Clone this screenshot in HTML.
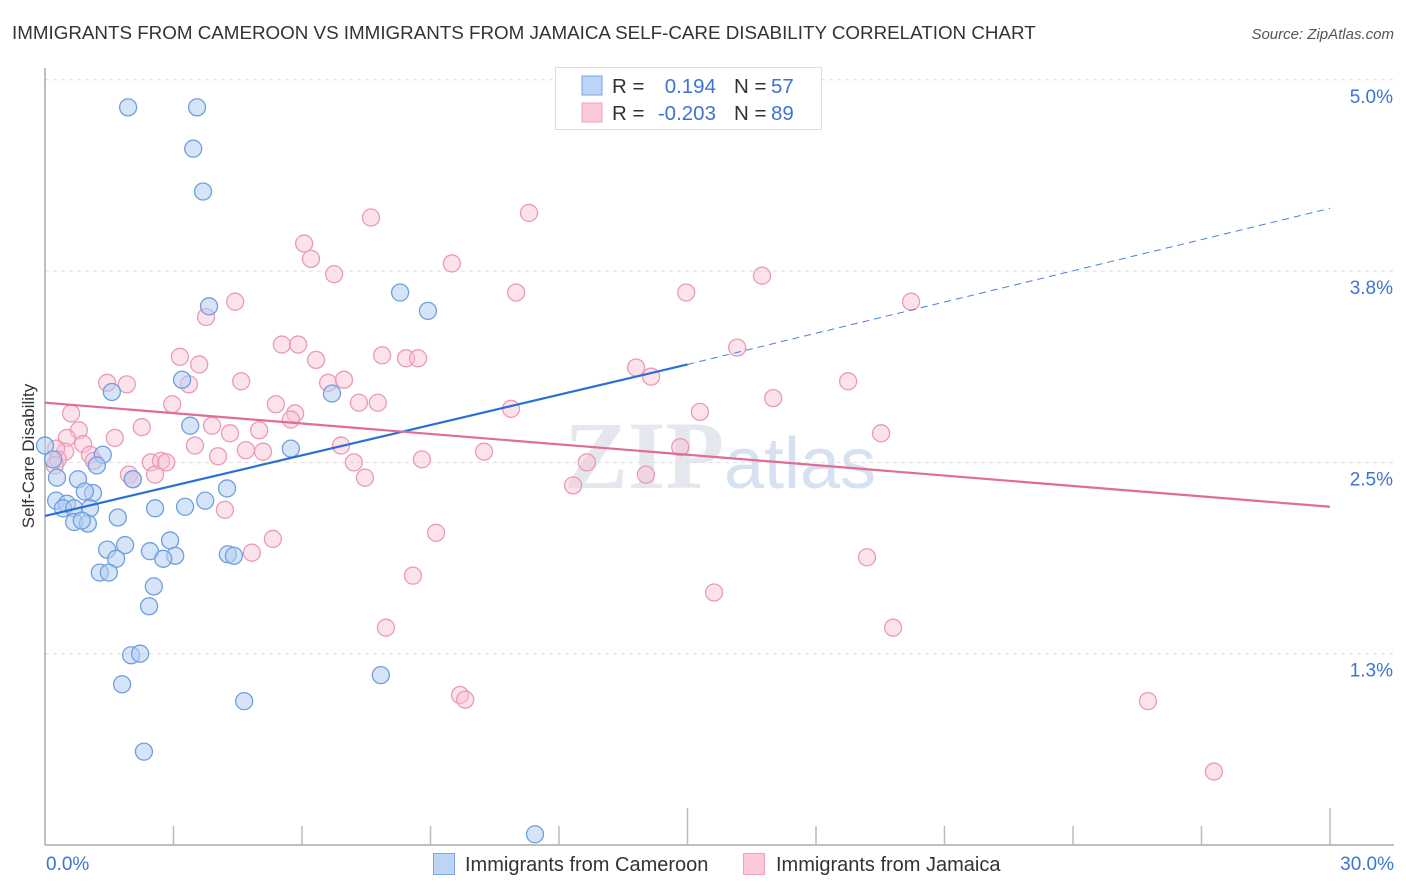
<!DOCTYPE html>
<html><head><meta charset="utf-8">
<style>
body{margin:0;background:#fff;font-family:"Liberation Sans",sans-serif;}
svg{display:block}
</style></head>
<body>
<svg id="chart" width="1406" height="892" xmlns="http://www.w3.org/2000/svg">
<text x="12" y="39" font-size="18.8" fill="#333">IMMIGRANTS FROM CAMEROON VS IMMIGRANTS FROM JAMAICA SELF-CARE DISABILITY CORRELATION CHART</text>
<text x="1394" y="39" font-size="15" fill="#555" font-style="italic" text-anchor="end">Source: ZipAtlas.com</text>
<text x="720" y="488" font-size="96" fill="#e4e8ee" text-anchor="middle" font-family="Liberation Serif,serif" font-weight="bold">ZIP<tspan font-family="Liberation Sans,sans-serif" font-weight="normal" fill="#d6e2f2" font-size="72">atlas</tspan></text>
<g id="grid"></g>
<g id="axes"></g>
<g id="marks"></g>
<g id="lines"></g>
<text x="34" y="456" font-size="17" fill="#333" text-anchor="middle" transform="rotate(-90 34 456)">Self-Care Disability</text>
<g>
<rect x="555.5" y="67.5" width="266" height="62" fill="#fff" stroke="#ddd"/>
<rect x="582" y="76" width="20" height="19" fill="#bcd4f6" stroke="#7aa6e6"/>
<rect x="582" y="103" width="20" height="19" fill="#fac8d8" stroke="#eea3bc"/>
<text x="612" y="93" font-size="20.5" fill="#333">R =</text>
<text x="716" y="93" font-size="20.5" fill="#3d74d4" text-anchor="end">0.194</text>
<text x="734" y="93" font-size="20.5" fill="#333">N =</text>
<text x="771" y="93" font-size="20.5" fill="#3d74d4">57</text>
<text x="612" y="120" font-size="20.5" fill="#333">R =</text>
<text x="716" y="120" font-size="20.5" fill="#3d74d4" text-anchor="end">-0.203</text>
<text x="734" y="120" font-size="20.5" fill="#333">N =</text>
<text x="771" y="120" font-size="20.5" fill="#3d74d4">89</text>
</g>
<g>
<rect x="433.5" y="853.5" width="21" height="21" fill="#bcd4f6" stroke="#7aa6e6"/>
<text x="465" y="871" font-size="20" fill="#333">Immigrants from Cameroon</text>
</g>
<g>
<rect x="743.5" y="853.5" width="21" height="21" fill="#fac8d8" stroke="#eea3bc"/>
<text x="776" y="871" font-size="20" fill="#333">Immigrants from Jamaica</text>
</g>
</svg>
<script>
const xTicks=[0,3,6,9,12,15,18,21,24,27,30];
const yTicks=[1.25,2.5,3.75,5.0];
const yTickLabels=["1.3%","2.5%","3.8%","5.0%"];
const xEndLabels=["0.0%","30.0%"];
const camX=[1.94,3.55,3.46,3.69,3.83,8.29,8.94,3.20,1.56,6.70,3.39,5.74,1.35,0.0,1.21,2.05,0.77,0.28,1.12,0.93,0.26,0.51,0.42,0.68,1.05,2.57,3.27,3.74,4.25,1.70,0.68,1.00,0.86,1.87,1.45,2.45,2.92,3.04,2.76,1.66,4.27,4.41,1.28,1.49,2.54,2.43,2.01,2.22,7.84,1.80,4.65,2.31,11.44,0.19];
const camY=[4.82,4.82,4.55,4.27,3.52,3.61,3.49,3.04,2.96,2.95,2.74,2.59,2.55,2.61,2.48,2.39,2.39,2.40,2.30,2.31,2.25,2.23,2.20,2.20,2.20,2.20,2.21,2.25,2.33,2.14,2.11,2.10,2.12,1.96,1.93,1.92,1.99,1.89,1.87,1.87,1.90,1.89,1.78,1.78,1.69,1.56,1.24,1.25,1.11,1.05,0.94,0.61,0.07,2.52];
const jamX=[11.30,7.61,6.05,6.21,9.50,6.75,16.74,11.00,14.97,20.22,4.44,3.76,5.53,5.91,16.16,3.15,3.60,6.33,7.87,8.43,8.71,13.80,14.15,1.45,1.91,3.36,4.58,6.61,6.98,18.75,17.00,2.97,7.33,7.77,5.39,5.84,10.88,15.29,5.74,0.61,2.26,0.79,3.90,5.00,4.32,19.52,1.63,0.51,0.47,0.26,3.50,6.91,0.89,5.09,4.69,4.04,1.05,0.30,8.80,10.25,1.14,2.47,2.71,2.83,2.57,1.96,7.47,12.65,14.83,14.03,7.21,0.23,12.33,4.20,5.32,9.13,4.83,19.19,8.59,15.62,7.96,19.80,9.69,9.81,25.75,27.29,2.05];
const jamY=[4.13,4.10,3.93,3.83,3.80,3.73,3.72,3.61,3.61,3.55,3.55,3.45,3.27,3.27,3.25,3.19,3.14,3.17,3.20,3.18,3.18,3.12,3.06,3.02,3.01,3.01,3.03,3.02,3.04,3.03,2.92,2.88,2.89,2.89,2.88,2.82,2.85,2.83,2.78,2.82,2.73,2.71,2.74,2.71,2.69,2.69,2.66,2.66,2.57,2.59,2.61,2.61,2.62,2.57,2.58,2.54,2.55,2.52,2.52,2.57,2.51,2.50,2.51,2.50,2.42,2.42,2.40,2.50,2.60,2.42,2.50,2.48,2.35,2.19,2.00,2.04,1.91,1.88,1.76,1.65,1.42,1.42,0.98,0.95,0.94,0.48,2.39];
const camTrend=[2.15,3.14,4.16]; // at x=0,15,30
const jamTrend=[2.89,2.21]; // at x=0,30

const NS="http://www.w3.org/2000/svg";
const X=v=>45+v*(1285/30);
const Y=v=>845-v*153.04;
function mk(tag,attrs,parent){const e=document.createElementNS(NS,tag);for(const k in attrs)e.setAttribute(k,attrs[k]);parent.appendChild(e);return e;}
const grid=document.getElementById('grid'),axes=document.getElementById('axes'),marks=document.getElementById('marks'),lines=document.getElementById('lines');
yTicks.forEach((t,i)=>{
  const l=mk('line',{x1:45,x2:1394,y1:Y(t),y2:Y(t),stroke:'#ddd','stroke-dasharray':'4 4'},grid);
  
  
  const tx=mk('text',{x:1393,y:Y(t)+23,'font-size':19,fill:'#3d74d4','text-anchor':'end'},axes);
  tx.textContent=yTickLabels[i];
  
  
});
const ya=mk('line',{x1:45,x2:45,y1:68,y2:845,stroke:'#aaa','stroke-width':1.5},axes);


const xa=mk('line',{x1:45,x2:1394,y1:845,y2:845,stroke:'#aaa','stroke-width':1.5},axes);


xTicks.forEach((t,i)=>{
  if(i===0)return;
  const long=(t===15||t===30);
  const tk=mk('line',{x1:X(t),x2:X(t),y1:long?808:826,y2:845,stroke:'#bbb','stroke-width':1.5},axes);
  
  
});
[[0,'start',46],[1,'end',1394]].forEach(([i,a,x])=>{
  const tx=mk('text',{x:x,y:870,'font-size':19,fill:'#3d74d4','text-anchor':a},axes);
  tx.textContent=xEndLabels[i];
  
  
});
jamX.forEach((v,i)=>{
  const c=mk('circle',{cx:X(v),cy:Y(jamY[i]),r:8.5,fill:'rgba(248,190,210,0.45)',stroke:'#eb9ab6','stroke-width':1.3},marks);
  
  
});
camX.forEach((v,i)=>{
  const c=mk('circle',{cx:X(v),cy:Y(camY[i]),r:8.5,fill:'rgba(180,205,242,0.55)',stroke:'#6f9fe0','stroke-width':1.3},marks);
  
  
});
const b1=mk('line',{x1:X(0),y1:Y(camTrend[0]),x2:X(15),y2:Y(camTrend[1]),stroke:'#2a6fd6','stroke-width':2.2},lines);


const b2=mk('line',{x1:X(15),y1:Y(camTrend[1]),x2:X(30),y2:Y(camTrend[2]),stroke:'#4a80d6','stroke-width':1,'stroke-dasharray':'7 5'},lines);


const p1=mk('line',{x1:X(0),y1:Y(jamTrend[0]),x2:X(30),y2:Y(jamTrend[1]),stroke:'#e06c98','stroke-width':2.2},lines);


</script>
</body></html>
